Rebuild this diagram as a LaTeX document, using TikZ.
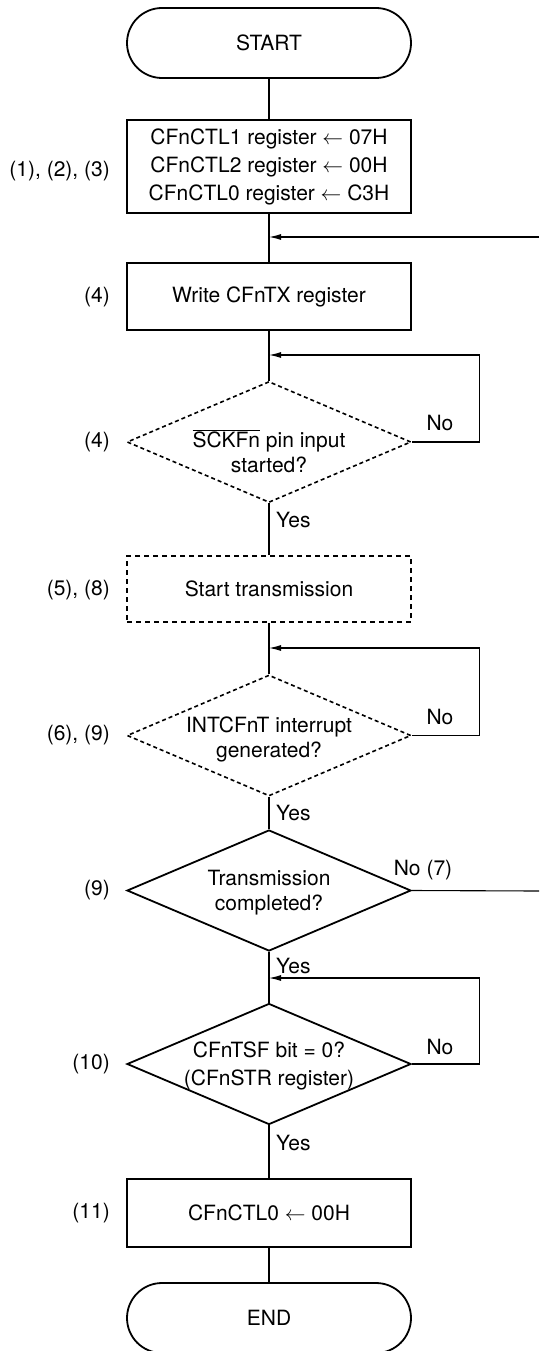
\documentclass[tikz,border=0pt]{standalone}
\usepackage{fontspec}
\setmainfont{TeX Gyre Heros}
\usetikzlibrary{shapes.geometric,arrows.meta}
\begin{document}
\begin{tikzpicture}[x=1pt,y=-1pt,
  font=\fontsize{21}{25}\selectfont,
  box/.style={draw, line width=1.8pt, minimum width=284pt, inner sep=0pt, align=center},
  term/.style={box, rounded corners=35pt, minimum height=70pt},
  dbox/.style={box, dash pattern=on 5pt off 4pt, line width=1.6pt},
  dec/.style={draw, diamond, line width=1.8pt, minimum width=284pt, minimum height=121pt, inner sep=0pt, aspect=2.35},
  ddec/.style={dec, dash pattern=on 4pt off 3pt, line width=1.6pt},
  txt/.style={align=center, inner sep=0pt},
  num/.style={anchor=east, inner sep=0pt},
  lbl/.style={inner sep=0pt},
  conn/.style={line width=1.1pt},
  arr/.style={conn, -{Latex[length=12pt,width=6pt]}}
]
\useasboundingbox (0,0) rectangle (539,1351);

% nodes
\node[term] (start) at (269,43) {START};
\node[box, minimum height=93pt, font=\fontsize{21}{28}\selectfont] (b1) at (269,166.5)
  {CFnCTL1 register $\leftarrow$ 07H\\CFnCTL2 register $\leftarrow$ 00H\\CFnCTL0 register $\leftarrow$ C3H};
\node[box, minimum height=67pt] (b2) at (269,296.5) {Write CFnTX register};
\node[ddec] (d1) at (269,442) {};
\node[txt] (d1t) at (269,451) {$\overline{\hbox{SCKFn}}$ pin input\\started?};
\node[dbox, minimum height=66pt] (b3) at (269,589) {Start transmission};
\node[ddec] (d2) at (269,735.5) {};
\node[txt] (d2t) at (269,739) {INTCFnT interrupt\\generated?};
\node[dec] (d3) at (269,890.5) {};
\node[txt] (d3t) at (269,893) {Transmission\\completed?};
\node[dec] (d4) at (269,1064) {};
\node[txt, font=\fontsize{21}{28}\selectfont] (d4t) at (269,1066) {CFnTSF bit = 0?\\(CFnSTR register)};
\node[box, minimum height=68pt] (b5) at (269,1213) {CFnCTL0 $\leftarrow$ 00H};
\node[term] (end) at (269,1318) {END};

% step numbers
\node[num] (n1) at (110,171) {(1), (2), (3)};
\node[num] (n2) at (110,297) {(4)};
\node[num] (n3) at (110,442) {(4)};
\node[num] (n4) at (110,590) {(5), (8)};
\node[num] (n5) at (110,735) {(6), (9)};
\node[num] (n6) at (110,890) {(9)};
\node[num] (n7) at (110,1064) {(10)};
\node[num] (n8) at (110,1213) {(11)};

% junction coordinates
\coordinate (j0) at (269,237);
\coordinate (j1) at (269,355);
\coordinate (j2) at (269,648);
\coordinate (j3) at (269,978);
\coordinate (e0) at (539,237);
\coordinate (e7) at (539,891);

% main flow
\draw[conn] (start) -- (b1);
\draw[conn] (b1) -- (b2);
\draw[conn] (b2) -- (d1);
\draw[conn] (d1) -- (b3);
\draw[conn] (b3) -- (d2);
\draw[conn] (d2) -- (d3);
\draw[conn] (d3) -- (d4);
\draw[conn] (d4) -- (b5);
\draw[conn] (b5) -- (end);

% loops
\draw[arr] (d1.east) -- ++(68,0) |- (j1);
\draw[arr] (d2.east) -- ++(68,0) |- (j2);
\draw[arr] (d4.east) -- ++(68,0) |- (j3);
\draw[conn] (d3.east) -- (e7);
\draw[arr] (e0) -- (j0);

% branch labels
\node[lbl, anchor=west] (y1) at (276,520) {Yes};
\node[lbl, anchor=west] (y2) at (276,813) {Yes};
\node[lbl, anchor=west] (y3) at (276,966) {Yes};
\node[lbl, anchor=west] (y4) at (276,1143) {Yes};
\node[lbl] (no1) at (440,423) {No};
\node[lbl] (no2) at (440,717) {No};
\node[lbl] (no3) at (423,870) {No (7)};
\node[lbl] (no4) at (440,1047) {No};
\end{tikzpicture}
\end{document}
